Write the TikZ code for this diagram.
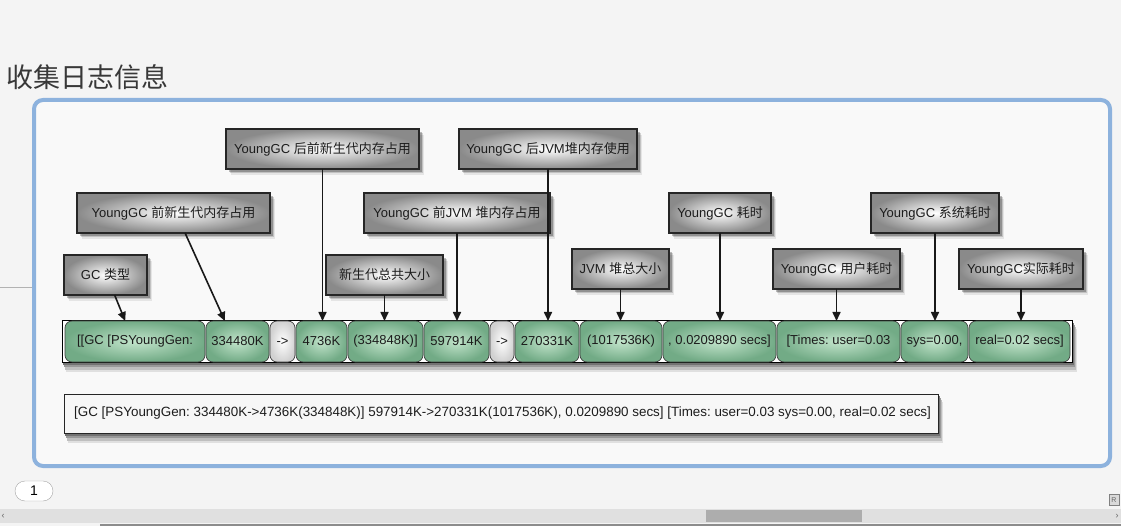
\documentclass[tikz,border=0pt]{standalone}
\usepackage{fontspec}
\setmainfont{Liberation Sans}
\newfontfamily\cjk{Noto Sans CJK SC}
\usetikzlibrary{arrows.meta,shadows,calc}
\definecolor{bg}{HTML}{F4F4F4}
\definecolor{framefill}{HTML}{F9F9F9}
\definecolor{frameblue}{HTML}{8DB2DD}
\definecolor{lblgray}{HTML}{8A8A8A}
\definecolor{ginner}{HTML}{C2E4CB}
\definecolor{gouter}{HTML}{72AB86}
\definecolor{txt}{HTML}{1C1C1C}
\frenchspacing
\newcommand\lbox[6]{\node[lbl,minimum width={#4-#2},minimum height={#5-#3}] (#1) at ({(#2+#4)/2},{(#3+#5)/2}) {#6};}
\newcommand\gcell[5]{\node[#5,minimum width={#3-#2},minimum height=41] (#1) at ({(#2+#3)/2},341.5) {#4};}
\newcommand\boxshadow[4]{%
  \fill[black!12] ({#1+4},{#2+8}) rectangle ({#3+5},{#4+10});
  \fill[black!25] ({#1+3},{#2+6}) rectangle ({#3+4},{#4+7.5});
  \fill[black!40] ({#1+2},{#2+4}) rectangle ({#3+3},{#4+5});
  \fill[black!55] ({#1+1},{#2+2}) rectangle ({#3+1.5},{#4+2.5});}
\begin{document}
\begin{tikzpicture}[x=1pt,y=-1pt,
  softshadow/.style={
    drop shadow={fill=black,shadow xshift=1pt,shadow yshift=-1.5pt,opacity=.3},
    drop shadow={fill=black,shadow xshift=2.5pt,shadow yshift=-3pt,opacity=.25},
    drop shadow={fill=black,shadow xshift=4pt,shadow yshift=-4.5pt,opacity=.15},
    drop shadow={fill=black,shadow xshift=5pt,shadow yshift=-6pt,opacity=.08}},
  lbl/.style={draw=black!85,line width=1.3pt,inner color=white,outer color=lblgray,softshadow,
    font=\fontsize{13}{15}\selectfont,text=txt,inner sep=0pt,outer sep=0pt},
  gc/.style={draw=black!75,line width=.7pt,rounded corners=7pt,inner color=ginner,outer color=gouter,
    font=\fontsize{13}{15}\selectfont,text=txt,inner sep=0pt,outer sep=0pt},
  wc/.style={gc,inner color=white,outer color=black!18},
  arr/.style={line width=1.6pt,black!90,-{Triangle[length=9pt,width=8pt]}}]
\useasboundingbox (0,0) rectangle (1121,526);
\fill[bg] (0,0) rectangle (1121,526);
% title
\node[anchor=west,inner sep=0pt,font=\cjk\fontsize{27}{30}\selectfont,text=black!78] (title) at (6,77) {收集日志信息};
\draw[black!30,line width=.6pt] (0,287) -- (36,287);
% frame
\draw[frameblue,line width=4pt,rounded corners=9pt,fill=framefill] (34,100) rectangle (1110,466);
% labels
\lbox{A}{226}{129}{419}{169}{YoungGC {\cjk 后前新生代内存占用}}
\lbox{B}{459}{129}{637}{169}{YoungGC {\cjk 后}JVM{\cjk 堆内存使用}}
\lbox{C}{77}{193}{270}{233}{YoungGC {\cjk 前新生代内存占用}}
\lbox{D}{364}{193}{550}{233}{YoungGC {\cjk 前}JVM {\cjk 堆内存占用}}
\lbox{E}{669}{193}{771}{233}{YoungGC {\cjk 耗时}}
\lbox{F}{871}{193}{999}{233}{YoungGC {\cjk 系统耗时}}
\lbox{G}{64}{255}{147}{295}{GC {\cjk 类型}}
\lbox{H}{326}{255}{443}{295}{{\cjk 新生代总共大小}}
\lbox{I}{572}{249}{669}{289}{JVM {\cjk 堆总大小}}
\lbox{J}{773}{249}{900}{289}{YoungGC {\cjk 用户耗时}}
\lbox{K}{959}{249}{1083}{289}{YoungGC{\cjk 实际耗时}}
% row
\boxshadow{62}{321}{1072}{362}
\node[draw=black,line width=.8pt,fill=white,minimum width=1010,minimum height=42,inner sep=0pt,outer sep=0pt] (row) at (567,341.5) {};
\gcell{c1}{65}{205}{[[GC [PSYoungGen:}{gc}
\gcell{c2}{206}{269}{334480K}{gc}
\gcell{c3}{270}{295}{->}{wc}
\gcell{c4}{296}{347}{4736K}{gc}
\gcell{c5}{348}{423}{(334848K)]}{gc}
\gcell{c6}{424}{489}{597914K}{gc}
\gcell{c7}{490}{514}{->}{wc}
\gcell{c8}{515}{579}{270331K}{gc}
\gcell{c9}{580}{662}{(1017536K)}{gc}
\gcell{c10}{663}{776}{, 0.0209890 secs]}{gc}
\gcell{c11}{777}{900}{[Times: user=0.03}{gc}
\gcell{c12}{901}{968}{sys=0.00,}{gc}
\gcell{c13}{969}{1070}{real=0.02 secs]}{gc}
% arrows
\draw[arr] (A.south) -- (A.south |- c4.north);
\draw[arr] (B.south) -- (B.south |- c8.north);
\draw[arr] ($(C.south west)!.56!(C.south east)$) -- ($(c2.north west)!.3!(c2.north east)$);
\draw[arr] (D.south) -- (D.south |- c6.north);
\draw[arr] (E.south) -- (E.south |- c10.north);
\draw[arr] (F.south) -- (F.south |- c12.north);
\draw[arr] ($(G.south west)!.61!(G.south east)$) -- ($(c1.north west)!.43!(c1.north east)$);
\draw[arr] (H.south) -- (H.south |- c5.north);
\draw[arr] (I.south) -- (I.south |- c9.north);
\draw[arr] (J.south) -- (J.south |- c11.north);
\draw[arr] (K.south) -- (K.south |- c13.north);
% log line
\boxshadow{64}{394}{938}{433}
\node[draw=black!85,line width=1pt,fill=white!97!black,minimum width=874,minimum height=39,inner sep=0pt,outer sep=0pt] (log) at (501,413.5) {};
\node[anchor=west,inner sep=0pt,font=\fontsize{13.4}{15}\selectfont,text=txt] (logtext) at (74,413.5)
  {[GC [PSYoungGen: 334480K->4736K(334848K)] 597914K->270331K(1017536K), 0.0209890 secs] [Times: user=0.03 sys=0.00, real=0.02 secs]};
% page pill
\node[draw=black!35,fill=white,rounded corners=10pt,minimum width=38,minimum height=20,inner sep=0pt,
  font=\fontsize{14}{16}\selectfont] (page) at (34,491) {1};
% scrollbar
\fill[black!12] (0,509) rectangle (1121,523);
\fill[black!32] (706,509.5) rectangle (862,522);
\fill[black!45] (100,524) rectangle (1121,526);
\node[font=\fontsize{9}{10}\selectfont,text=black!60,inner sep=0pt] (lt) at (3,516) {‹};
\node[font=\fontsize{9}{10}\selectfont,text=black!60,inner sep=0pt] (rt) at (1117,516) {›};
\node[draw=black!50,fill=black!15,minimum width=10,minimum height=11,inner sep=0pt,
  font=\fontsize{7}{8}\selectfont,text=black!60] (rb) at (1114,500) {R};
\end{tikzpicture}
\end{document}
